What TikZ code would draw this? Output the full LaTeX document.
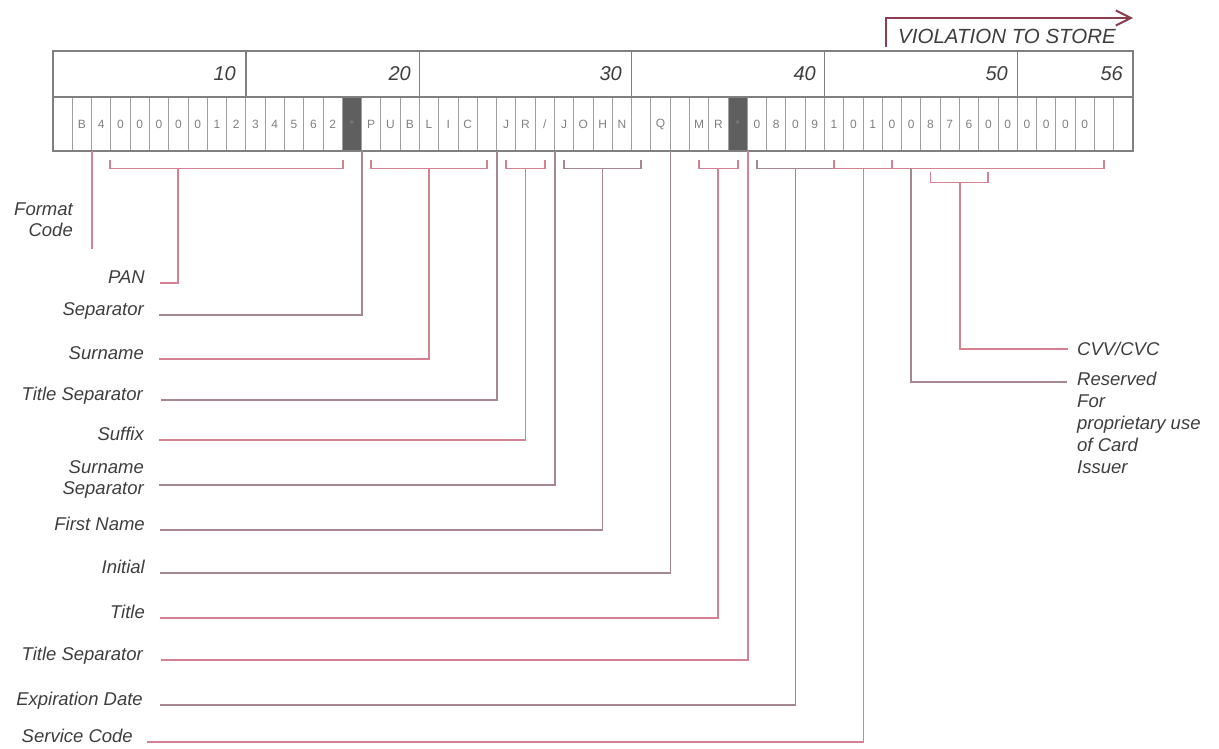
\documentclass[tikz,border=0pt]{standalone}
\usepackage{fontspec}
\setmainfont{Liberation Sans}
\usetikzlibrary{arrows.meta}
\definecolor{leadred}{RGB}{214,128,148}
\definecolor{leadmauve}{RGB}{165,135,143}
\definecolor{stripgray}{RGB}{128,128,128}
\definecolor{txtgray}{RGB}{62,62,62}
\definecolor{darkcell}{RGB}{95,95,95}
\definecolor{violred}{RGB}{140,62,78}
\tikzset{
  strip/.style={draw=stripgray, line width=1.3pt},
  cellbox/.style={draw=stripgray!75, line width=1pt, minimum width=19.2857pt,
    minimum height=54pt, inner sep=0pt, text=gray, font=\fontsize{12}{14}\selectfont},
  lbl/.style={text=txtgray, inner sep=0pt, font=\fontsize{18.5}{21}\selectfont\itshape},
  numlbl/.style={text=txtgray, inner sep=0pt, anchor=east, font=\fontsize{20}{24}\selectfont\itshape},
  leadpink/.style={draw=leadred, line width=1.8pt},
  leadgray/.style={draw=leadmauve, line width=1.6pt},
  violarrow/.style={draw=violred, line width=2pt, -{Straight Barb[length=15pt,width=15pt]}}
}

\begin{document}
\begin{tikzpicture}[x=1pt,y=-1pt]
  \useasboundingbox (0,0) rectangle (1219,749);

  % track strip
  \fill[darkcell] ({53+15*19.2857},97) rectangle ({53+16*19.2857},151);
  \fill[darkcell] ({53+35*19.2857},97) rectangle ({53+36*19.2857},151);
  \foreach \ch [count=\i] in {{},B,4,0,0,0,0,0,1,2,3,4,5,6,2,*,P,U,B,L,I,C,{},J,R,/,J,O,H,N,{},Q,{},M,R,*,0,8,0,9,1,0,1,0,0,8,7,6,0,0,0,0,0,0,{},{}}
    \node[cellbox] (c\i) at ({53+(\i-0.5)*19.2857},124) {\ch};
  \draw[strip] (53,51) rectangle (1133,151);
  \draw[strip] (53,97) -- (1133,97);
  \foreach \k in {10,19,30,40,50}
    \draw[strip] ({53+\k*19.2857},51) -- ({53+\k*19.2857},97);

  \node[numlbl] (n10) at (236,74) {10};
  \node[numlbl] (n20) at (411,74) {20};
  \node[numlbl] (n30) at (622,74) {30};
  \node[numlbl] (n40) at (816,74) {40};
  \node[numlbl] (n50) at (1008,74) {50};
  \node[numlbl] (n56) at (1123,74) {56};

  % violation arrow
  \coordinate (vstart) at (886,47);
  \coordinate (vend) at (1133,18);
  \draw[violarrow] (vstart) |- (vend);
  \node[numlbl, anchor=center, font=\fontsize{20.5}{24}\selectfont\itshape] (viol) at (1007,36) {VIOLATION TO STORE};

  % field names
  \node[lbl, anchor=east, align=right] (fmt) at (73,220) {Format\\Code};
  \node[lbl, anchor=base east] (pan) at (145,283) {PAN};
  \node[lbl, anchor=base east] (sep) at (144,315) {Separator};
  \node[lbl, anchor=base east] (sur) at (144,359) {Surname};
  \node[lbl, anchor=base east] (tsep) at (143,400) {Title Separator};
  \node[lbl, anchor=base east] (suf) at (144,440) {Suffix};
  \node[lbl, anchor=east, align=right] (ssep) at (144,479) {Surname\\Separator};
  \node[lbl, anchor=base east] (first) at (145,530) {First Name};
  \node[lbl, anchor=base east] (init) at (145,573) {Initial};
  \node[lbl, anchor=base east] (title) at (145,618) {Title};
  \node[lbl, anchor=base east] (tsepb) at (143,660) {Title Separator};
  \node[lbl, anchor=base east] (exp) at (143,705) {Expiration Date};
  \node[lbl, anchor=base east] (svc) at (133,742) {Service Code};
  \node[lbl, anchor=west] (cvv) at (1077,349) {CVV/CVC};
  \node[lbl, anchor=north west, align=left, font=\fontsize{18.5}{22}\selectfont\itshape] (rsv) at (1077,372) {Reserved\\For\\proprietary use\\of Card\\Issuer};

  % leaders
  \draw[leadpink] (c2.south east) -- ([yshift=-12pt]fmt.south -| c2.south east);

  \draw[leadpink] ([yshift=-9pt]c4.south west) -- ++(0,8) -| ([yshift=-9pt]c15.south east);
  \draw[leadpink] ([yshift=-17pt]c7.south) |- ([xshift=15pt]pan.base east);

  \draw[leadgray] (c16.south east) |- ([xshift=15pt]sep.base east);

  \draw[leadpink] ([yshift=-9pt]c17.south) -- ++(0,8) -| ([yshift=-9pt]c23.south);
  \draw[leadpink] ([yshift=-17pt]c20.south) |- ([xshift=15pt]sur.base east);

  \draw[leadgray] (c23.south east) |- ([xshift=18pt]tsep.base east);

  \draw[leadpink] ([yshift=-9pt]c24.south) -- ++(0,8) -| ([yshift=-9pt]c26.south);
  \draw[leadpink] ([yshift=-17pt]c25.south) |- ([xshift=15pt]suf.base east);

  \draw[leadgray] (c26.south east) |- ([xshift=15pt,yshift=-6pt]ssep.east);

  \draw[leadgray] ([yshift=-9pt]c27.south) -- ++(0,8) -| ([yshift=-9pt]c31.south);
  \draw[leadgray] ([yshift=-17pt]c29.south) |- ([xshift=15pt]first.base east);

  \draw[leadgray] (c32.south east) |- ([xshift=15pt]init.base east);

  \draw[leadpink] ([yshift=-9pt]c34.south) -- ++(0,8) -| ([yshift=-9pt]c36.south);
  \draw[leadpink] ([yshift=-17pt]c35.south) |- ([xshift=15pt]title.base east);

  \draw[leadpink] (c36.south east) |- ([xshift=18pt]tsepb.base east);

  \draw[leadgray] ([yshift=-9pt]c37.south) -- ++(0,8) -| ([yshift=-9pt]c41.south);
  \draw[leadgray] ([yshift=-17pt]c39.south) |- ([xshift=17pt]exp.base east);

  \draw[leadpink] ([yshift=-9pt]c41.south) -- ++(0,8) -| ([yshift=-9pt]c44.south);
  \draw[leadpink] ([yshift=-17pt]c42.south east) |- ([xshift=14pt]svc.base east);

  \draw[leadpink] ([yshift=-9pt]c44.south) -- ++(0,8) -| ([yshift=-9pt]c55.south);
  \draw[leadgray] ([yshift=-17pt]c45.south) |- ([xshift=-10pt,yshift=-10pt]rsv.north west);

  \draw[leadpink] ([yshift=-21pt]c46.south) -- ++(0,10) -| ([yshift=-21pt]c49.south);
  \draw[leadpink] ([yshift=-31pt]c47.south east) |- ([xshift=-9pt]cvv.west);
\end{tikzpicture}
\end{document}
